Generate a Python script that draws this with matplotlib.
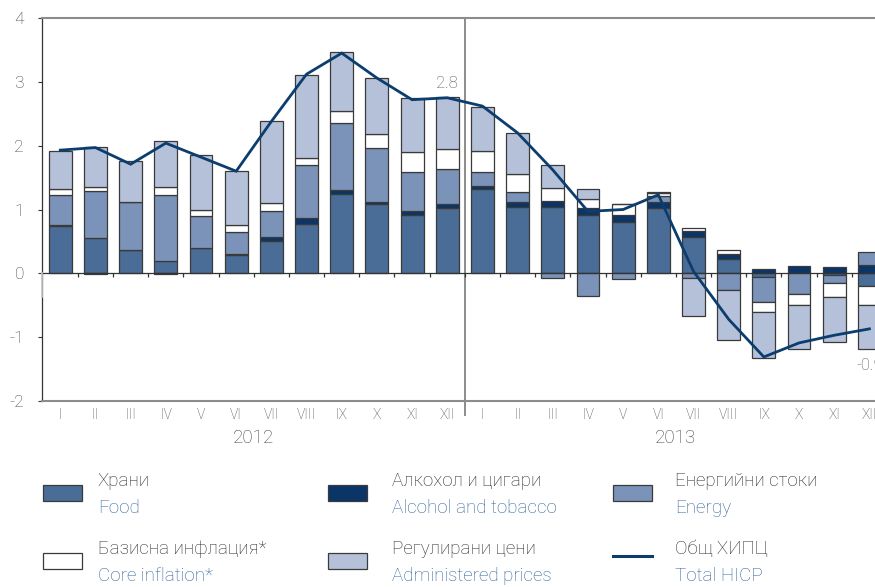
import matplotlib
matplotlib.use("Agg")
import matplotlib.pyplot as plt
from matplotlib.patches import Rectangle
from matplotlib.lines import Line2D
import numpy as np

plt.rcParams['font.family'] = ['Roboto', 'DejaVu Sans']

# ---------------- data ----------------
months = ["I", "II", "III", "IV", "V", "VI", "VII", "VIII", "IX", "X", "XI", "XII"] * 2
years = ["2012", "2013"]

food = [0.74, 0.56, 0.37, 0.20, 0.39, 0.29, 0.51, 0.78, 1.24, 1.08, 0.91, 1.03,
        1.32, 1.04, 1.04, 0.92, 0.80, 1.02, 0.57, 0.23, -0.05, 0.01, -0.03, -0.20]
alcohol = [0.01, -0.01, 0.00, -0.01, 0.01, 0.01, 0.06, 0.08, 0.06, 0.04, 0.06, 0.05,
           0.05, 0.07, 0.09, 0.10, 0.11, 0.09, 0.09, 0.08, 0.07, 0.10, 0.10, 0.13]
energy = [0.48, 0.73, 0.74, 1.02, 0.50, 0.35, 0.40, 0.83, 1.06, 0.85, 0.61, 0.55,
          0.21, 0.16, -0.07, -0.36, -0.09, 0.10, -0.07, -0.26, -0.40, -0.33, -0.12, 0.20]
core = [0.09, 0.07, 0.01, 0.14, 0.09, 0.10, 0.13, 0.12, 0.19, 0.22, 0.32, 0.31,
        0.34, 0.28, 0.21, 0.15, 0.18, 0.05, 0.05, 0.06, -0.16, -0.16, -0.22, -0.29]
administered = [0.59, 0.62, 0.64, 0.72, 0.86, 0.85, 1.29, 1.30, 0.91, 0.87, 0.84, 0.82,
                0.69, 0.65, 0.36, 0.15, 0.00, 0.01, -0.60, -0.79, -0.71, -0.69, -0.70, -0.70]
hicp = [1.93, 1.97, 1.71, 2.04, 1.82, 1.60, 2.38, 3.12, 3.45, 3.06, 2.72, 2.75,
        2.62, 2.20, 1.62, 0.97, 1.00, 1.23, 0.03, -0.72, -1.31, -1.09, -0.97, -0.87]

labels_bg = ["Храни", "Алкохол и цигари", "Енергийни стоки",
             "Базисна инфлация*", "Регулирани цени", "Общ ХИПЦ"]
labels_en = ["Food", "Alcohol and tobacco", "Energy",
             "Core inflation*", "Administered prices", "Total HICP"]

colors = ["#4a6d98", "#0b3566", "#7b93b8", "#ffffff", "#b4c1d9"]
line_color = "#0b3d6e"
en_color = "#2f6298"

# ---------------- figure ----------------
W, H = 875, 587
fig = plt.figure(figsize=(W / 100, H / 100), dpi=100)
ax_left, ax_right, ax_top, ax_bottom = 42, 887, 18, 401
ax = fig.add_axes([ax_left / W, (H - ax_bottom) / H,
                   (ax_right - ax_left) / W, (ax_bottom - ax_top) / H])

x = np.arange(len(months))
series = [food, alcohol, energy, core, administered]
pos = np.zeros(len(x))
neg = np.zeros(len(x))
for vals, col in zip(series, colors):
    v = np.array(vals, dtype=float)
    bottom = np.where(v >= 0, pos, neg)
    ax.bar(x, v, 0.65, bottom=bottom, color=col, edgecolor="#3a3a3a",
           linewidth=0.9, zorder=2)
    pos = np.where(v >= 0, pos + v, pos)
    neg = np.where(v < 0, neg + v, neg)

ax.plot(x, hicp, color=line_color, lw=2.0, zorder=5, solid_joinstyle="miter")

ax.set_xlim(-0.52, 23.5)
ax.set_ylim(-2, 4)

# zero line with boundary ticks
ax.axhline(0, color="#333333", lw=0.9, zorder=4)
ax.vlines(np.arange(0.5, len(x) - 1, 1), 0, -0.06, color="#333333", lw=0.9, zorder=4)

# spines
for s in ["top", "bottom"]:
    ax.spines[s].set_color("#8c8c8c")
    ax.spines[s].set_linewidth(1.5)
ax.spines["right"].set_visible(False)
ax.spines["left"].set_color("#333333")
ax.spines["left"].set_linewidth(0.9)
ax.plot([-0.52, -0.52], [0, -0.37], color="#c8c8c8", lw=1.2, clip_on=False, zorder=6)

ax.set_yticks(range(-2, 5))
ax.set_yticklabels([str(t) for t in range(-2, 5)])
ax.tick_params(axis="y", direction="out", length=3, width=0.8, color="#333333",
               labelsize=12.5, labelcolor="#444444", pad=10)
ax.set_xticks(x)
ax.set_xticklabels(months)
ax.tick_params(axis="x", length=0, labelsize=10, labelcolor="#444444", pad=5)
for t in ax.get_xticklabels() + ax.get_yticklabels():
    t.set_fontweight("light")

# year divider
ax.axvline(11.5, ymin=-0.036, ymax=1, color="#8c8c8c", lw=1.4, clip_on=False, zorder=3)

# year labels
for k, yr in enumerate(years):
    ax.annotate(yr, xy=(5.5 + 12 * k, 0), xycoords=("data", "axes fraction"),
                xytext=(0, -37 * 0.72), textcoords="offset points",
                ha="center", va="center", fontsize=13.5, color="#444444",
                fontweight="light")

# data labels
ax.annotate(f"{hicp[11]:.1f}", xy=(11, hicp[11]), xytext=(0, 10.5),
            textcoords="offset points", ha="center", va="center",
            fontsize=12, color="#555555", fontweight="light")
ax.annotate(f"{hicp[23]:.1f}", xy=(23, hicp[23]), xytext=(0, -26.5),
            textcoords="offset points", ha="center", va="center",
            fontsize=12, color="#555555", fontweight="light")

# ---------------- legend ----------------
def fx(px):
    return px / W

def fy(py):
    return (H - py) / H

col_x = [43, 328, 613]
text_x = [98, 392, 675]
row_patch_y = [485, 553]
row_bg_y = [481, 549]
row_en_y = [508, 576]
items = list(zip(labels_bg, labels_en))
styles = colors[:3] + colors[3:5] + ["line"]
for idx, ((bg, en), st) in enumerate(zip(items, styles)):
    r, c = divmod(idx, 3)
    if st == "line":
        fig.add_artist(Line2D([fx(col_x[c]), fx(col_x[c] + 39)],
                              [fy(row_patch_y[r] + 3), fy(row_patch_y[r] + 3)],
                              transform=fig.transFigure, color=line_color, lw=2.2))
    else:
        fig.add_artist(Rectangle((fx(col_x[c]), fy(row_patch_y[r] + 16)),
                                 39 / W, 16 / H, transform=fig.transFigure,
                                 facecolor=st, edgecolor="#3a3a3a", lw=0.9))
    fig.text(fx(text_x[c]), fy(row_bg_y[r]), bg, ha="left", va="center",
             fontsize=13.5, color="#2a2a2a", fontweight="light")
    fig.text(fx(text_x[c]), fy(row_en_y[r]), en, ha="left", va="center",
             fontsize=13.5, color=en_color, fontweight="light")

fig.savefig("out.png", dpi=100)
